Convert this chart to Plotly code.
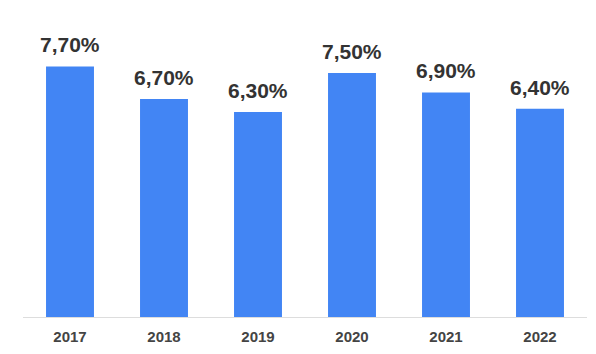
import plotly.graph_objects as go

years = ["2017", "2018", "2019", "2020", "2021", "2022"]
rates = [7.7, 6.7, 6.3, 7.5, 6.9, 6.4]

FONT = "Liberation Sans, Arial, sans-serif"

fig = go.Figure(go.Bar(
    x=years, y=rates,
    marker=dict(color="#4285F4", line=dict(width=0)),
    hoverinfo="x+y",
))
for i, v in enumerate(rates):
    fig.add_annotation(
        x=i, y=v, text=f"{v:.2f}%".replace(".", ","),
        showarrow=False, yanchor="bottom", yshift=8,
        font=dict(family=FONT, size=21, color="#333333", weight="bold"),
    )
fig.update_layout(
    width=596, height=354,
    margin=dict(l=23, r=9, t=30, b=35),
    paper_bgcolor="white", plot_bgcolor="white",
    bargap=0.49,
    showlegend=False,
    font=dict(family=FONT),
)
fig.update_xaxes(
    type="category",
    showline=True, linecolor="#dddddd", linewidth=1,
    showgrid=False, ticks="", ticklabelstandoff=6,
    tickfont=dict(size=15, color="#444444", family=FONT, weight="bold"),
)
fig.update_yaxes(range=[0, 8.82], visible=False, showgrid=False)
fig.write_html("out.html")
